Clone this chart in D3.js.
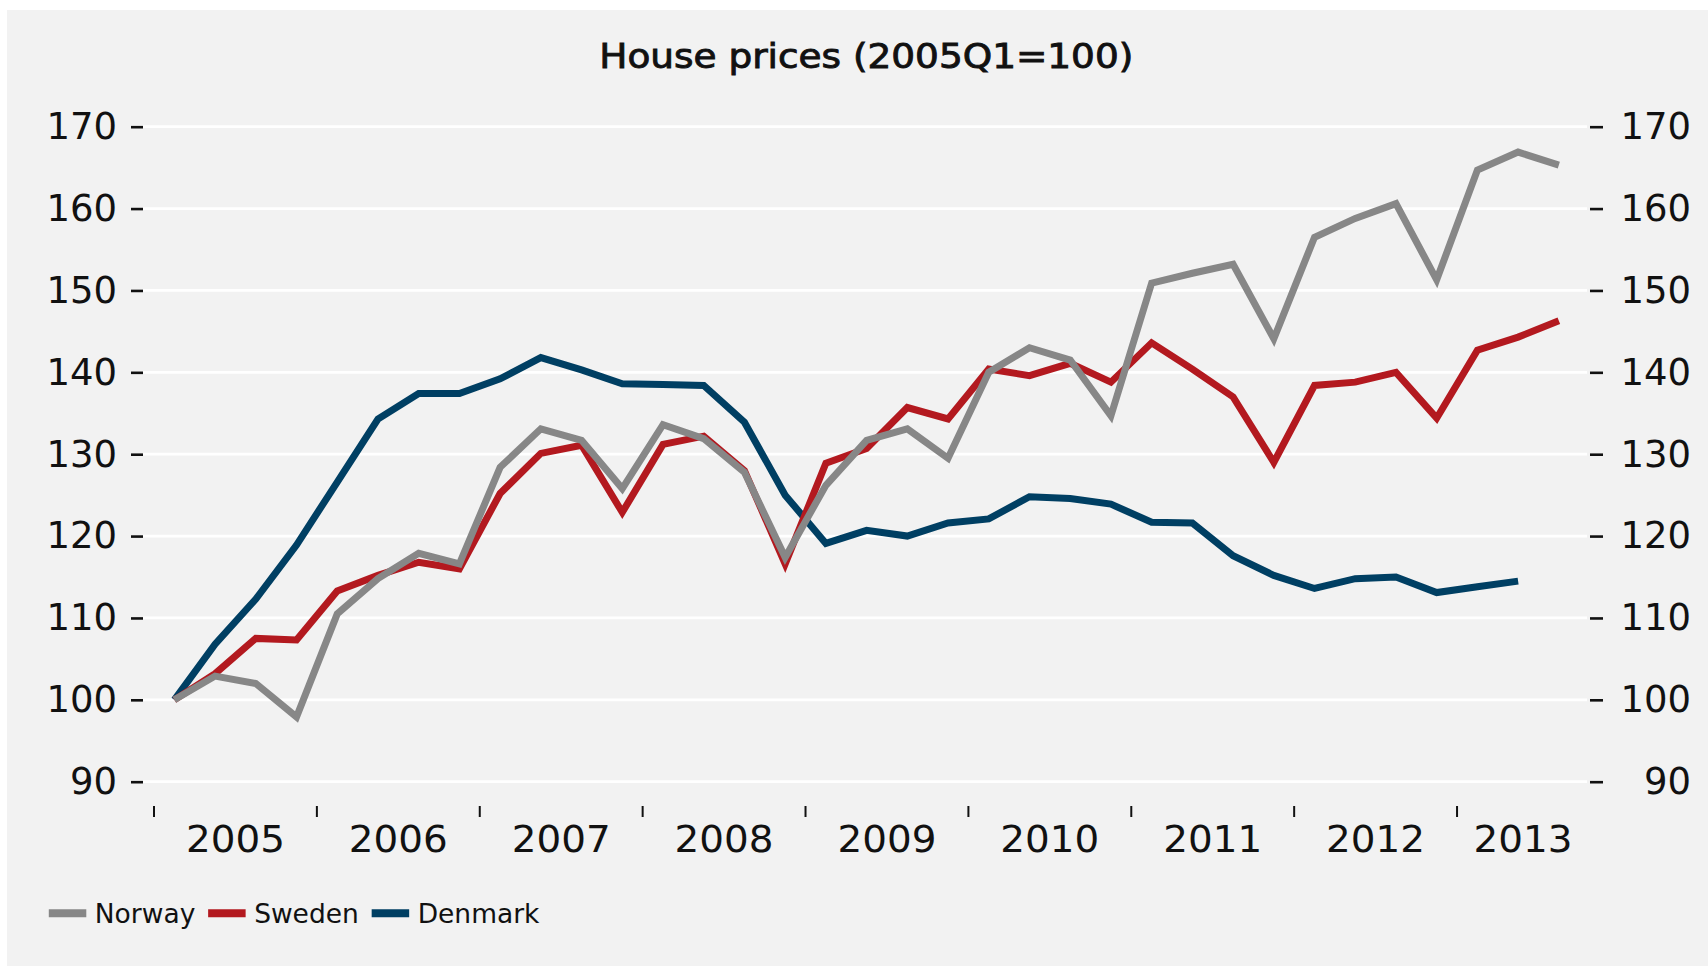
<!DOCTYPE html>
<html>
<head>
<meta charset="utf-8">
<script src="https://cdn.jsdelivr.net/npm/d3@7/dist/d3.min.js"></script>
<style>
  html, body { margin: 0; padding: 0; background: #ffffff; }
  svg text { font-family: "DejaVu Sans", sans-serif; fill: #111; }
</style>
</head>
<body>
<div id="chart"></div>
<script>
var quarters = ["2005Q1","2005Q2","2005Q3","2005Q4","2006Q1","2006Q2","2006Q3","2006Q4",
  "2007Q1","2007Q2","2007Q3","2007Q4","2008Q1","2008Q2","2008Q3","2008Q4",
  "2009Q1","2009Q2","2009Q3","2009Q4","2010Q1","2010Q2","2010Q3","2010Q4",
  "2011Q1","2011Q2","2011Q3","2011Q4","2012Q1","2012Q2","2012Q3","2012Q4",
  "2013Q1","2013Q2","2013Q3"]
var years = ["2005","2006","2007","2008","2009","2010","2011","2012","2013"]
var yTicks = [90, 100, 110, 120, 130, 140, 150, 160, 170]

var norway = [100, 102.9, 102.0, 97.9, 110.5, 114.8, 117.9, 116.6, 128.4, 133.1,
  131.7, 125.8, 133.6, 131.9, 127.8, 117.4, 126.2, 131.7, 133.1, 129.5,
  140.0, 143.0, 141.5, 134.7, 150.9, 152.1, 153.2, 144.1, 156.5, 158.8,
  160.6, 151.3, 164.7, 166.9, 165.3]
var sweden = [100, 103.2, 107.5, 107.3, 113.3, 115.2, 116.8, 116.0, 125.2, 130.1,
  131.1, 122.9, 131.2, 132.2, 128.0, 116.6, 128.9, 130.7, 135.7, 134.3,
  140.4, 139.6, 141.1, 138.8, 143.6, 140.4, 137.0, 129.0, 138.4, 138.8,
  140.0, 134.4, 142.7, 144.3, 146.3]
var denmark = [100, 106.8, 112.3, 118.9, 126.6, 134.3, 137.4, 137.4, 139.2, 141.8,
  140.3, 138.6, 138.5, 138.4, 133.9, 125.0, 119.1, 120.7, 120.0, 121.6,
  122.1, 124.8, 124.6, 123.9, 121.7, 121.6, 117.6, 115.2, 113.6, 114.8,
  115.0, 113.1, 113.8, 114.5]

var seriesNames = ["Norway", "Sweden", "Denmark"]
var seriesColors = ["#878787", "#b3191f", "#003f63"]
var seriesData = [norway, sweden, denmark]

var W = 1708, H = 966

var svg = d3.select("#chart").append("svg")
    .attr("width", W)
    .attr("height", H)

svg.append("rect")
    .attr("x", 7).attr("y", 10)
    .attr("width", W - 7).attr("height", H - 10)
    .attr("fill", "#f2f2f2")

var xScale = d3.scaleBand()
    .domain(quarters)
    .range([154, 1579.2])
    .padding(0)

var yScale = d3.scaleLinear()
    .domain([90, 170])
    .range([781.7, 126.7])

// gridlines
svg.append("g")
    .selectAll("line")
    .data(yTicks)
    .enter().append("line")
    .attr("x1", 143)
    .attr("x2", 1587)
    .attr("y1", d => yScale(d))
    .attr("y2", d => yScale(d))
    .attr("stroke", "#ffffff")
    .attr("stroke-width", 2.7)

// left axis
var left = svg.append("g")
    .attr("transform", "translate(143,0)")
    .call(d3.axisLeft(yScale).tickValues(yTicks).tickSize(12).tickPadding(14))
left.select(".domain").remove()
left.selectAll(".tick line").attr("stroke", "#111").attr("stroke-width", 2.6)
left.selectAll(".tick text")
    .attr("font-size", 37)
    .attr("font-family", "DejaVu Sans")
    .attr("fill", "#111")

// right axis
var right = svg.append("g")
    .attr("transform", "translate(1590,0)")
    .call(d3.axisRight(yScale).tickValues(yTicks).tickSize(13).tickPadding(0))
right.select(".domain").remove()
right.selectAll(".tick line").attr("stroke", "#111").attr("stroke-width", 2.6)
right.selectAll(".tick text")
    .attr("x", 101)
    .attr("text-anchor", "end")
    .attr("font-size", 37)
    .attr("font-family", "DejaVu Sans")
    .attr("fill", "#111")

// year ticks and labels
var bw = xScale.bandwidth()
var yearG = svg.append("g")
yearG.selectAll("line")
    .data(years)
    .enter().append("line")
    .attr("x1", d => xScale(d + "Q1"))
    .attr("x2", d => xScale(d + "Q1"))
    .attr("y1", 806)
    .attr("y2", 817)
    .attr("stroke", "#111")
    .attr("stroke-width", 2)

yearG.selectAll("text")
    .data(years)
    .enter().append("text")
    .attr("x", function(d) {
        var qs = quarters.filter(q => q.slice(0, 4) === d)
        var c = (xScale(qs[0]) + xScale(qs[qs.length - 1]) + bw) / 2
        return qs.length < 4 ? c + 5 : c
    })
    .attr("y", 852.3)
    .attr("text-anchor", "middle")
    .attr("font-size", 37)
    .attr("textLength", 99)
    .attr("lengthAdjust", "spacingAndGlyphs")
    .text(d => d)

// lines
var line = d3.line()
    .x((d, i) => xScale(quarters[i]) + bw / 2)
    .y(d => yScale(d))

var order = [2, 1, 0]
order.forEach(function(k) {
    svg.append("path")
        .datum(seriesData[k])
        .attr("d", line)
        .attr("fill", "none")
        .attr("stroke", seriesColors[k])
        .attr("stroke-width", 7)
        .attr("stroke-linejoin", "miter")
        .attr("stroke-miterlimit", 4)
})

// title
svg.append("text")
    .attr("x", 866.3)
    .attr("y", 68.3)
    .attr("text-anchor", "middle")
    .attr("font-size", 34)
    .attr("textLength", 534)
    .attr("lengthAdjust", "spacingAndGlyphs")
    .attr("stroke", "#111")
    .attr("stroke-width", 0.9)
    .text("House prices (2005Q1=100)")

// legend
var legend = svg.append("g")
var lx = 48.8
seriesNames.forEach(function(name, i) {
    legend.append("line")
        .attr("x1", lx).attr("x2", lx + 37.5)
        .attr("y1", 913.3).attr("y2", 913.3)
        .attr("stroke", seriesColors[i])
        .attr("stroke-width", 8)
    var t = legend.append("text")
        .attr("x", lx + 46)
        .attr("y", 922.7)
        .attr("font-size", 26.5)
        .text(name)
    lx = lx + 46 + t.node().getComputedTextLength() + 12.8
})
</script>
</body>
</html>
